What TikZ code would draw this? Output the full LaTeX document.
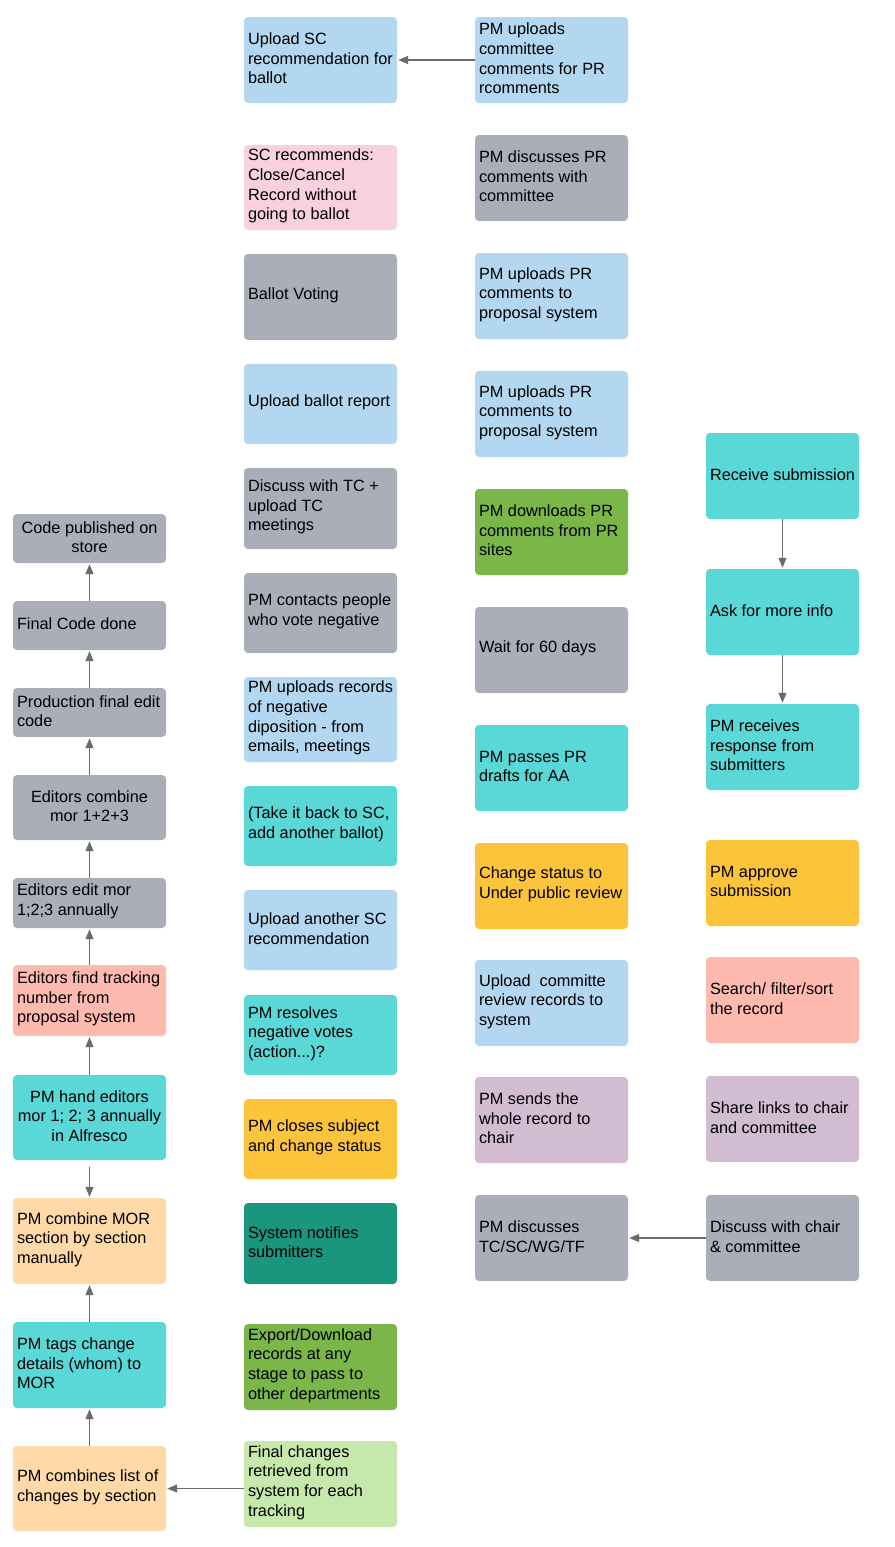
\documentclass[tikz,border=0pt]{standalone}
\usepackage{fontspec}
\setmainfont{Liberation Sans}
\usetikzlibrary{arrows.meta}
\definecolor{lblue}{HTML}{B3D7F0}
\definecolor{pinkc}{HTML}{F9D1DD}
\definecolor{grayc}{HTML}{A9AEB8}
\definecolor{tealc}{HTML}{5AD7D7}
\definecolor{greenc}{HTML}{7AB648}
\definecolor{yellowc}{HTML}{FCC43A}
\definecolor{salmonc}{HTML}{FFBAB0}
\definecolor{lavc}{HTML}{D1BCD2}
\definecolor{dtealc}{HTML}{19967D}
\definecolor{peachc}{HTML}{FFDAA8}
\definecolor{lgreenc}{HTML}{C7E8AC}
\definecolor{arrowc}{HTML}{6B6B6B}
\tikzset{
  boxc/.style={rounded corners=4pt, minimum width=153pt, inner sep=0pt, draw=none},
  txt/.style={inner sep=0pt, align=left, font=\fontsize{16.3}{19.6}\selectfont, text=black},
  arr/.style={draw=arrowc, line width=1.2pt, -{Triangle[length=10pt,width=8pt]}, shorten >=1pt}
}
% name, colour, cx, cy, height, text (left aligned)
\newcommand\bxl[6]{%
  \node[boxc, fill=#2, minimum height=#5pt] (#1) at (#3,#4) {};
  \node[txt, anchor=west] (#1t) at ([xshift=4pt,yshift=1.5pt]#1.west) {#6};}
% centred text
\newcommand\bxc[6]{%
  \node[boxc, fill=#2, minimum height=#5pt] (#1) at (#3,#4) {};
  \node[txt, align=center] (#1t) at ([yshift=1.5pt]#1.center) {#6};}
\begin{document}
\begin{tikzpicture}[x=1pt,y=-1pt]
\useasboundingbox (0,0) rectangle (894,1547);
% column 1
\bxc{cp}{grayc}{89.5}{538.5}{49}{Code published on\\store}
\bxl{fc}{grayc}{89.5}{625.5}{49}{Final Code done}
\bxl{pf}{grayc}{89.5}{712.5}{49}{Production final edit\\code}
\bxc{ec}{grayc}{89.5}{807.5}{65}{Editors combine\\mor 1+2+3}
\bxl{ee}{grayc}{89.5}{903}{50}{Editors edit mor\\1;2;3 annually}
\bxl{ef}{salmonc}{89.5}{1000.5}{71}{Editors find tracking\\number from\\proposal system}
\bxc{ph}{tealc}{89.5}{1117.5}{85}{PM hand editors\\mor 1; 2; 3 annually\\in Alfresco}
\bxl{pcm}{peachc}{89.5}{1241}{86}{PM combine MOR\\section by section\\manually}
\bxl{ptg}{tealc}{89.5}{1365}{86}{PM tags change\\details (whom) to\\MOR}
\bxl{pcl}{peachc}{89.5}{1488.5}{85}{PM combines list of\\changes by section}
% column 2
\bxl{us}{lblue}{320.5}{60}{86}{Upload SC\\recommendation for\\ballot}
\bxl{sc}{pinkc}{320.5}{187.5}{85}{SC recommends:\\Close/Cancel\\Record without\\going to ballot}
\bxl{bv}{grayc}{320.5}{297}{86}{Ballot Voting}
\bxl{ub}{lblue}{320.5}{404}{80}{Upload ballot report}
\bxl{dt}{grayc}{320.5}{508.5}{81}{Discuss with TC +\\upload TC\\meetings}
\bxl{pc}{grayc}{320.5}{613}{80}{PM contacts people\\who vote negative}
\bxl{pu}{lblue}{320.5}{719.5}{85}{PM uploads records\\of negative\\diposition - from\\emails, meetings}
\bxl{tb}{tealc}{320.5}{826}{80}{(Take it back to SC,\\add another ballot)}
\bxl{ua}{lblue}{320.5}{930}{80}{Upload another SC\\recommendation}
\bxl{pr}{tealc}{320.5}{1035}{80}{PM resolves\\negative votes\\(action...)?}
\bxl{pcs}{yellowc}{320.5}{1139}{80}{PM closes subject\\and change status}
\bxl{sn}{dtealc}{320.5}{1243.5}{81}{System notifies\\submitters}
\bxl{ed}{greenc}{320.5}{1367}{86}{Export/Download\\records at any\\stage to pass to\\other departments}
\bxl{fch}{lgreenc}{320.5}{1484}{86}{Final changes\\retrieved from\\system for each\\tracking}
% column 3
\bxl{puc}{lblue}{551.5}{60}{86}{PM uploads\\committee\\comments for PR\\rcomments}
\bxl{pd}{grayc}{551.5}{178}{86}{PM discusses PR\\comments with\\committee}
\bxl{pua}{lblue}{551.5}{296}{86}{PM uploads PR\\comments to\\proposal system}
\bxl{pub}{lblue}{551.5}{414}{86}{PM uploads PR\\comments to\\proposal system}
\bxl{pdl}{greenc}{551.5}{532}{86}{PM downloads PR\\comments from PR\\sites}
\bxl{wsd}{grayc}{551.5}{650}{86}{Wait for 60 days}
\bxl{pp}{tealc}{551.5}{768}{86}{PM passes PR\\drafts for AA}
\bxl{cs}{yellowc}{551.5}{886}{86}{Change status to\\Under public review}
\bxl{uc}{lblue}{551.5}{1003}{86}{Upload\ \ committe\\review records to\\system}
\bxl{ps}{lavc}{551.5}{1120}{86}{PM sends the\\whole record to\\chair}
\bxl{pdt}{grayc}{551.5}{1238}{86}{PM discusses\\TC/SC/WG/TF}
% column 4
\bxl{rs}{tealc}{782.5}{476}{86}{Receive submission}
\bxl{ai}{tealc}{782.5}{612}{86}{Ask for more info}
\bxl{prr}{tealc}{782.5}{747}{86}{PM receives\\response from\\submitters}
\bxl{pa}{yellowc}{782.5}{883}{86}{PM approve\\submission}
\bxl{sf}{salmonc}{782.5}{1000}{86}{Search/ filter/sort\\the record}
\bxl{sl}{lavc}{782.5}{1119}{86}{Share links to chair\\and committee}
\bxl{dc}{grayc}{782.5}{1238}{86}{Discuss with chair\\\& committee}
% connectors
\draw[arr] (puc.west) -- (us.east);
\draw[arr] (rs.south) -- (ai.north);
\draw[arr] (ai.south) -- (prr.north);
\draw[arr] (dc.west) -- (pdt.east);
\draw[arr] (fch.west |- pcl.east) -- (pcl.east);
\draw[arr] (fc.north) -- (cp.south);
\draw[arr] (pf.north) -- (fc.south);
\draw[arr] (ec.north) -- (pf.south);
\draw[arr] (ee.north) -- (ec.south);
\draw[arr] (ef.north) -- (ee.south);
\draw[arr] (ph.north) -- (ef.south);
\draw[arr, shorten <=7pt] (ph.south) -- (pcm.north);
\draw[arr] (ptg.north) -- (pcm.south);
\draw[arr] (pcl.north) -- (ptg.south);
\end{tikzpicture}
\end{document}
